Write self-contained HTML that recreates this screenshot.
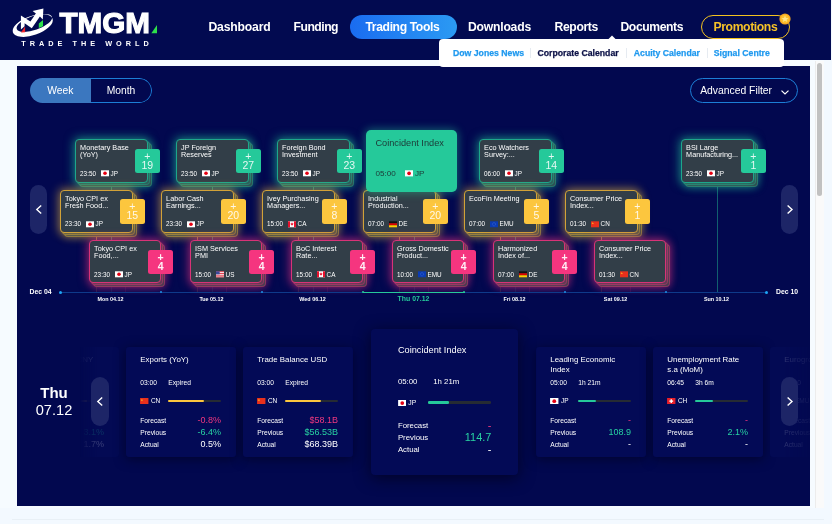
<!DOCTYPE html>
<html lang="en"><head><meta charset="utf-8"><title>TMGM - Corporate Calendar</title>
<style>
*{box-sizing:border-box;margin:0;padding:0}
html,body{width:832px;height:524px;overflow:hidden;background:#f3f9ff;font-family:"Liberation Sans",sans-serif}
.abs{position:absolute}
#hdr{position:absolute;left:0;top:0;width:831px;height:60.4px;background:#020a50}
.nav{position:absolute;top:20px;height:15px;line-height:15px;font-weight:bold;font-size:12.2px;color:#fff;white-space:nowrap}
#pill{position:absolute;left:349.5px;top:14.5px;width:107.5px;height:24.5px;border-radius:13px;background:linear-gradient(90deg,#1a6cf0,#2b9af3)}
#promo{position:absolute;left:701.2px;top:14.5px;width:89.2px;height:24.5px;border-radius:13px;border:1.6px solid #f3c21f}
#sub{position:absolute;left:439px;top:39px;width:345.2px;height:27.6px;background:#fff;border-radius:4px;z-index:5}
#sub span{position:absolute;top:8.5px;line-height:11px;font-size:8.7px;font-weight:bold;color:#1f99ef;-webkit-text-stroke:.25px currentColor;white-space:nowrap}
#sub i{position:absolute;top:9px;width:1px;height:10px;background:#e6ebf1}
#frame{position:absolute;left:0;top:60.4px;width:824px;height:447.6px;background:#f6fbff}
#panel{position:absolute;left:17px;top:66px;width:793px;height:440px;background:#02084f;overflow:hidden}
#sbt{position:absolute;left:815px;top:61px;width:9px;height:447px;background:#fafafa;border-left:1px solid #ececec}
#sbh{position:absolute;left:817.3px;top:63px;width:4.8px;height:133px;border-radius:3px;background:#c1c1c1}
#bl{position:absolute;left:12px;top:519px;width:812px;height:1px;background:#e9f0f6}
/* panel content uses page coords via inner wrapper */
#pc{position:absolute;left:-17px;top:-66px;width:832px;height:524px}
#tog{position:absolute;left:29.6px;top:78px;width:122.4px;height:24.5px;border-radius:12.5px;overflow:hidden;font-size:10.3px;color:#fff}
#tog .w{position:absolute;left:0;top:0;width:61.3px;height:24.5px;background:#3b77bf;line-height:25.3px;text-align:center}
#tog .m{position:absolute;left:61.3px;top:0;width:61.1px;height:24.5px;line-height:23.3px;text-align:center;border:1px solid #1c7ed6;border-left:none;border-radius:0 12.5px 12.5px 0;padding-right:0}
#af{position:absolute;left:690.3px;top:78px;width:107.7px;height:24.5px;border:1px solid #1c7ed6;border-radius:13px;font-size:10.35px;color:#fff;line-height:24.3px;padding-left:8.9px}
.arr{position:absolute;width:17.5px;height:49px;border-radius:9px;background:#1d2567}
.arr svg{position:absolute;left:0;top:0}
/* timeline cards */
.tc{position:absolute;width:73px;height:43px}.tc.g{height:44px}.tc.p{width:72.4px}
.tc .in,.tc i{position:absolute;left:0;top:0;width:100%;height:100%;border-radius:4px;background:#323e48;border:1px solid}
.tc i.s1{left:2px;top:2px}
.tc i.s2{left:4px;top:3.6px}
.tc.g .in{border-color:#1da78b}.tc.g i{border-color:rgba(31,174,144,.42)}
.tc.y .in{border-color:#d2a238}.tc.y i{border-color:rgba(220,170,56,.42)}
.tc.p .in{border-color:#d83377}.tc.p i{border-color:rgba(224,53,122,.42)}
.tc.g .in{box-shadow:0 0 10px 2px rgba(37,201,154,.5)}
.tc.y .in{box-shadow:0 0 10px 2px rgba(252,198,62,.45)}
.tc.p .in{box-shadow:0 0 10px 2px rgba(245,53,127,.5)}
.tc.g i.s2{box-shadow:0 0 9px 1px rgba(37,201,154,.4)}
.tc.y i.s2{box-shadow:0 0 9px 1px rgba(252,198,62,.35)}
.tc.p i.s2{box-shadow:0 0 9px 1px rgba(245,53,127,.4)}
.tt{position:absolute;left:4.1px;top:4.2px;font-size:7.25px;line-height:7.2px;color:#fff;white-space:nowrap}
.tm{position:absolute;left:4.1px;top:29.3px;height:8px;font-size:6.35px;line-height:8px;color:#fff;white-space:nowrap}
.tc.g .tm,.tc.p .tm{top:29.9px}.tc.g .tm .fl,.tc.p .tm .fl{top:0.4px}
.tm .fl{position:absolute;left:21.2px;top:0.8px;width:8px;height:6.6px}
.tm .cc{position:absolute;left:30.5px;top:0}
.bd{position:absolute;left:60px;top:10px;width:24.6px;height:24.4px;border-radius:2.5px;color:rgba(255,255,255,.88);font-size:10.5px;text-align:center}
.bd span{display:block;position:absolute;left:0;width:100%;line-height:10px}
.bd span:first-child{top:1.6px}
.bd span:last-child{top:10.6px}
.tc.g .bd{background:#25c99a}
.tc.y .bd{background:#fcc63e;top:9px;height:25px}
.tc.p .bd{left:59.4px;background:#f5357f;font-weight:bold;color:rgba(255,255,255,.93)}
.act{position:absolute;width:90.8px;height:61.8px;border-radius:5px;background:#25c99a;color:#1d3836;box-shadow:0 0 9px 1px rgba(37,201,154,.45);z-index:2}
.att{position:absolute;left:9.6px;top:7.7px;font-size:9.2px;line-height:11px;white-space:nowrap}
.atm{position:absolute;left:9.6px;top:38.8px;font-size:8.1px;line-height:10px;height:10px;white-space:nowrap}
.atm .fl{position:absolute;left:29.6px;top:1.4px;width:8.2px;height:6.7px}
.atm .cc{position:absolute;left:39.5px;top:0}
.vl{position:absolute;width:1px;opacity:.55}.vl.lo{opacity:.13}
.axl{position:absolute;top:291.5px;height:1px;background:#0e3a8a}
.axa{background:#25c99a}
.tk{position:absolute;top:290.5px;width:2px;height:2px;border-radius:1px}
.dot{position:absolute;top:290.5px;width:3px;height:3px;border-radius:50%;background:#1da4f5}
.dl{position:absolute;top:295px;width:101px;text-align:center;font-size:5.4px;line-height:8px;font-weight:bold;color:#fff;white-space:nowrap}
.dl.da{font-size:6.9px;top:295.1px;color:#25c99a}
.de{position:absolute;top:287px;font-size:6.85px;line-height:9px;font-weight:bold;color:#fff;white-space:nowrap}
/* bottom */
#thu{position:absolute;left:24px;top:384px;width:60px;text-align:center;color:#fff}
#thu b{display:block;font-size:15px;line-height:17px}
#thu span{display:block;font-size:14.6px;line-height:18px}
.bc{position:absolute;top:347px;width:110px;height:110px;background:#030a56;border-radius:3px;box-shadow:0 2px 12px rgba(0,0,24,.6);color:#fff}
.bc.fade{background:#030a54;box-shadow:none;color:rgba(255,255,255,.16)}.bc.fade .fl,.bc.fade .bar,.bc.fade em{opacity:.2}
.bt{position:absolute;left:14.3px;top:8.1px;font-size:7.9px;line-height:9.5px;white-space:nowrap}
.btm{position:absolute;left:14.3px;top:32px;font-size:6.67px;line-height:8px;white-space:nowrap}
.btm .st{position:absolute;left:28px;top:0}
.bfl{position:absolute;left:14.3px;top:49.5px;height:8px;font-size:6.5px;line-height:8px}
.bfl .fl{position:absolute;left:0;top:1px;width:8.5px;height:6.25px}
.bfl span{position:absolute;left:10.6px;top:0}
.bar{position:absolute;left:42.1px;top:52.6px;width:52.9px;height:2px;border-radius:1.2px;background:#262b33}
.bar b{display:block;height:100%;border-radius:1.2px}
.r{position:absolute;left:14.3px;width:80.7px;height:11px;font-size:6.67px;line-height:11px}
.r em{position:absolute;right:0;top:0;font-style:normal;font-size:9px;line-height:11px}
.r1{top:67.7px}.r2{top:80.1px}.r3{top:91.9px}
.pk{color:#f0387f}.tl{color:#28d2a2}.wh{color:#fff}
#lclip{position:absolute;left:80px;top:330px;width:40px;height:150px;overflow:hidden;-webkit-mask-image:linear-gradient(90deg,transparent 0,#000 45%);mask-image:linear-gradient(90deg,transparent 0,#000 45%)}#lclip .bc{top:17px}
#rclip{position:absolute;left:770px;top:330px;width:41px;height:150px;overflow:hidden;-webkit-mask-image:linear-gradient(90deg,#000 0,#000 35%,rgba(0,0,0,.25) 100%);mask-image:linear-gradient(90deg,#000 0,#000 35%,rgba(0,0,0,.25) 100%)}#rclip .bc{top:17px}
#ac{position:absolute;left:370.5px;top:328.5px;width:147.5px;height:146px;background:#030a56;border-radius:4px;box-shadow:0 3px 16px rgba(0,0,24,.75);color:#fff}
#ac .bt{left:27.4px;top:15px;font-size:9.2px;line-height:12px}
#ac .btm{left:27.4px;top:48.2px;font-size:7.8px;line-height:9px}
#ac .btm .st{left:35.4px}
#ac .bfl{left:27.4px;top:70px;font-size:6.8px}
#ac .bfl .fl{width:8.5px;height:6.2px}
#ac .bfl span{left:10.4px}
#ac .bar{left:57.9px;top:72.8px;width:62.9px;height:2.4px}
#ac .r{left:27.4px;width:93.4px;font-size:7.8px}
#ac .r em{font-size:10.9px}
#ac .r1{top:91px}#ac .r2{top:103.4px}#ac .r3{top:115.5px}
</style></head><body>
<div id="hdr">
 <svg class="abs" style="left:0;top:0" width="170" height="60" viewBox="0 0 170 60">
  <g transform="rotate(-19 32.7 25.5)"><path fill="#fff" fill-rule="evenodd" d="M11.7 25.5 a21 9.6 0 1 0 42 0 a21 9.6 0 1 0 -42 0 Z M16.5 23.6 a18.6 7 0 1 0 37.2 0 a18.6 7 0 1 0 -37.2 0 Z"/></g>
  <path d="M20.9 29.4 L20.9 15.6 L30.4 21.6 L35.9 13.6 L32.6 11 L43.4 8.4 L42.8 19.6 L39.9 16.6 L31.8 28.2 L24.6 23.2 L24.6 26.2 Z" fill="#fff"/>
  <path d="M21 32.5 L25.1 26.6 L25.1 32.3 Z" fill="#f0242c"/>
  <path d="M38.8 28 L38.8 23.6 L43 19.9 L43 26.2 Z" fill="#2ee04a"/>
  <text x="59.4" y="33.3" font-family="Liberation Sans, sans-serif" font-weight="bold" font-size="29.3" fill="#fff" stroke="#fff" stroke-width="1.1" stroke-linejoin="miter" textLength="90.6" lengthAdjust="spacingAndGlyphs">TMGM</text>
  <path d="M151.3 33.3 L157 33.3 L157 25 Z" fill="#2ee04a"/>
  <text x="21.3" y="45.6" font-family="Liberation Sans, sans-serif" font-weight="bold" font-size="7.3" fill="#fff" textLength="127.5" lengthAdjust="spacing">TRADE THE WORLD</text>
 </svg>
 <div id="pill"></div>
 <div id="promo"></div>
 <span class="nav" style="left:208.5px;letter-spacing:-0.19px">Dashboard</span>
 <span class="nav" style="left:293.5px;letter-spacing:-0.5px">Funding</span>
 <span class="nav" style="left:365.5px;letter-spacing:-0.4px">Trading Tools</span>
 <span class="nav" style="left:468px;letter-spacing:-0.23px">Downloads</span>
 <span class="nav" style="left:554.5px;letter-spacing:-0.37px">Reports</span>
 <span class="nav" style="left:620.5px;letter-spacing:-0.43px">Documents</span>
 <span class="nav" style="left:713.5px;color:#f5c228;letter-spacing:-0.39px">Promotions</span>
 <svg class="abs" style="left:778px;top:12px" width="14" height="14" viewBox="0 0 14 14"><circle cx="7" cy="7" r="5.6" fill="#f6a723"/><circle cx="7" cy="7" r="4.3" fill="#fbc02d"/><path d="M7 3.6 L8 5.9 L10.4 6.1 L8.6 7.7 L9.2 10.1 L7 8.8 L4.8 10.1 L5.4 7.7 L3.6 6.1 L6 5.9 Z" fill="#fde38a"/></svg>
 <svg class="abs" style="left:607px;top:35px" width="10" height="5" viewBox="0 0 10 5"><path d="M0.5 5 L5 0.5 L9.5 5 Z" fill="#fff"/></svg>
</div>
<div id="frame"></div>
<div id="sub">
 <span style="left:14px">Dow Jones News</span><i style="left:91px"></i>
 <span style="left:98.5px;color:#0b1046">Corporate Calendar</span><i style="left:187px"></i>
 <span style="left:194.8px">Acuity Calendar</span><i style="left:267.6px"></i>
 <span style="left:274.8px">Signal Centre</span>
</div>
<div id="sbt"></div><div id="sbh"></div><div id="bl"></div>
<div id="panel"><div id="pc">
 <div id="tog"><div class="w">Week</div><div class="m">Month</div></div>
 <div id="af">Advanced Filter<svg class="abs" style="left:89px;top:10px" width="10" height="6" viewBox="0 0 10 6"><path d="M1.5 1.6 L5 5 L8.5 1.6" fill="none" stroke="#fff" stroke-width="1.2"/></svg></div>
 <div class="arr" style="left:29.5px;top:185px"><svg width="17.5" height="49" viewBox="0 0 17.5 49"><path d="M11.2 20.5 L6.8 24.5 L11.2 28.5" fill="none" stroke="#fff" stroke-width="1.4"/></svg></div>
 <div class="arr" style="left:780.7px;top:185px"><svg width="17.5" height="49" viewBox="0 0 17.5 49"><path d="M6.6 20.5 L11 24.5 L6.6 28.5" fill="none" stroke="#fff" stroke-width="1.4"/></svg></div>
<div class="vl" style="left:111.0px;top:180.0px;height:104.0px;background:#1fa88a"></div><div class="vl lo" style="left:111.0px;top:284px;height:8px;background:#1fa88a"></div>
<div class="vl" style="left:212.0px;top:180.0px;height:104.0px;background:#1fa88a"></div><div class="vl lo" style="left:212.0px;top:284px;height:8px;background:#1fa88a"></div>
<div class="vl" style="left:313.0px;top:180.0px;height:104.0px;background:#1fa88a"></div><div class="vl lo" style="left:313.0px;top:284px;height:8px;background:#1fa88a"></div>
<div class="vl" style="left:414.0px;top:180.0px;height:104.0px;background:#1fa88a"></div><div class="vl lo" style="left:414.0px;top:284px;height:8px;background:#1fa88a"></div>
<div class="vl" style="left:515.0px;top:180.0px;height:104.0px;background:#1fa88a"></div><div class="vl lo" style="left:515.0px;top:284px;height:8px;background:#1fa88a"></div>
<div class="vl" style="left:717.0px;top:180.0px;height:112.0px;background:#1fa88a"></div>
<div class="vl" style="left:96.0px;top:230.0px;height:54.0px;background:#d9a636"></div><div class="vl lo" style="left:96.0px;top:284px;height:8px;background:#d9a636"></div>
<div class="vl" style="left:197.0px;top:230.0px;height:54.0px;background:#d9a636"></div><div class="vl lo" style="left:197.0px;top:284px;height:8px;background:#d9a636"></div>
<div class="vl" style="left:298.0px;top:230.0px;height:54.0px;background:#d9a636"></div><div class="vl lo" style="left:298.0px;top:284px;height:8px;background:#d9a636"></div>
<div class="vl" style="left:399.0px;top:230.0px;height:54.0px;background:#d9a636"></div><div class="vl lo" style="left:399.0px;top:284px;height:8px;background:#d9a636"></div>
<div class="vl" style="left:500.0px;top:230.0px;height:54.0px;background:#d9a636"></div><div class="vl lo" style="left:500.0px;top:284px;height:8px;background:#d9a636"></div>
<div class="vl" style="left:601.0px;top:230.0px;height:54.0px;background:#d9a636"></div><div class="vl lo" style="left:601.0px;top:284px;height:8px;background:#d9a636"></div>
<div class="vl" style="left:125.0px;top:280.0px;height:4.0px;background:#c92f7a"></div><div class="vl lo" style="left:125.0px;top:284px;height:8px;background:#c92f7a"></div>
<div class="vl" style="left:226.0px;top:280.0px;height:4.0px;background:#c92f7a"></div><div class="vl lo" style="left:226.0px;top:284px;height:8px;background:#c92f7a"></div>
<div class="vl" style="left:327.0px;top:280.0px;height:4.0px;background:#c92f7a"></div><div class="vl lo" style="left:327.0px;top:284px;height:8px;background:#c92f7a"></div>
<div class="vl" style="left:428.0px;top:280.0px;height:4.0px;background:#c92f7a"></div><div class="vl lo" style="left:428.0px;top:284px;height:8px;background:#c92f7a"></div>
<div class="vl" style="left:529.0px;top:280.0px;height:4.0px;background:#c92f7a"></div><div class="vl lo" style="left:529.0px;top:284px;height:8px;background:#c92f7a"></div>
<div class="vl" style="left:630.0px;top:280.0px;height:4.0px;background:#c92f7a"></div><div class="vl lo" style="left:630.0px;top:284px;height:8px;background:#c92f7a"></div>
<div class="tc g" style="left:75.0px;top:139.0px"><i class="s2"></i><i class="s1"></i><div class="in"><div class="tt">Monetary Base<br>(YoY)</div><div class="tm"><span class="t">23:50</span><svg class="fl" viewBox="0 0 12 9"><rect width="12" height="9" fill="#fff"/><circle cx="6" cy="4.5" r="2.7" fill="#e60012"/></svg><span class="cc">JP</span></div></div><div class="bd"><span>+</span><span>19</span></div></div>
<div class="tc g" style="left:176.0px;top:139.0px"><i class="s2"></i><i class="s1"></i><div class="in"><div class="tt">JP Foreign<br>Reserves</div><div class="tm"><span class="t">23:50</span><svg class="fl" viewBox="0 0 12 9"><rect width="12" height="9" fill="#fff"/><circle cx="6" cy="4.5" r="2.7" fill="#e60012"/></svg><span class="cc">JP</span></div></div><div class="bd"><span>+</span><span>27</span></div></div>
<div class="tc g" style="left:277.0px;top:139.0px"><i class="s2"></i><i class="s1"></i><div class="in"><div class="tt">Foreign Bond<br>Investment</div><div class="tm"><span class="t">23:50</span><svg class="fl" viewBox="0 0 12 9"><rect width="12" height="9" fill="#fff"/><circle cx="6" cy="4.5" r="2.7" fill="#e60012"/></svg><span class="cc">JP</span></div></div><div class="bd"><span>+</span><span>23</span></div></div>
<div class="tc g" style="left:479.0px;top:139.0px"><i class="s2"></i><i class="s1"></i><div class="in"><div class="tt">Eco Watchers<br>Survey:...</div><div class="tm"><span class="t">06:00</span><svg class="fl" viewBox="0 0 12 9"><rect width="12" height="9" fill="#fff"/><circle cx="6" cy="4.5" r="2.7" fill="#e60012"/></svg><span class="cc">JP</span></div></div><div class="bd"><span>+</span><span>14</span></div></div>
<div class="tc g" style="left:681.0px;top:139.0px"><i class="s2"></i><i class="s1"></i><div class="in"><div class="tt">BSI Large<br>Manufacturing...</div><div class="tm"><span class="t">23:50</span><svg class="fl" viewBox="0 0 12 9"><rect width="12" height="9" fill="#fff"/><circle cx="6" cy="4.5" r="2.7" fill="#e60012"/></svg><span class="cc">JP</span></div></div><div class="bd"><span>+</span><span>1</span></div></div>
<div class="act" style="left:365.8px;top:130px"><div class="att">Coincident Index</div><div class="atm"><span class="t">05:00</span><svg class="fl" viewBox="0 0 12 9"><rect width="12" height="9" fill="#fff"/><circle cx="6" cy="4.5" r="2.7" fill="#e60012"/></svg><span class="cc">JP</span></div></div>
<div class="tc y" style="left:60.0px;top:190.0px"><i class="s2"></i><i class="s1"></i><div class="in"><div class="tt">Tokyo CPI ex<br>Fresh Food...</div><div class="tm"><span class="t">23:30</span><svg class="fl" viewBox="0 0 12 9"><rect width="12" height="9" fill="#fff"/><circle cx="6" cy="4.5" r="2.7" fill="#e60012"/></svg><span class="cc">JP</span></div></div><div class="bd"><span>+</span><span>15</span></div></div>
<div class="tc y" style="left:161.0px;top:190.0px"><i class="s2"></i><i class="s1"></i><div class="in"><div class="tt">Labor Cash<br>Earnings...</div><div class="tm"><span class="t">23:30</span><svg class="fl" viewBox="0 0 12 9"><rect width="12" height="9" fill="#fff"/><circle cx="6" cy="4.5" r="2.7" fill="#e60012"/></svg><span class="cc">JP</span></div></div><div class="bd"><span>+</span><span>20</span></div></div>
<div class="tc y" style="left:262.0px;top:190.0px"><i class="s2"></i><i class="s1"></i><div class="in"><div class="tt">Ivey Purchasing<br>Managers...</div><div class="tm"><span class="t">15:00</span><svg class="fl" viewBox="0 0 12 9"><rect width="12" height="9" fill="#fff"/><rect width="3" height="9" fill="#e8112d"/><rect x="9" width="3" height="9" fill="#e8112d"/><path d="M6 1.6 L7 3.4 L8.2 3.1 L7.6 5.2 L6.3 5.6 L6.3 7.3 L5.7 7.3 L5.7 5.6 L4.4 5.2 L3.8 3.1 L5 3.4 Z" fill="#e8112d"/></svg><span class="cc">CA</span></div></div><div class="bd"><span>+</span><span>8</span></div></div>
<div class="tc y" style="left:363.0px;top:190.0px"><i class="s2"></i><i class="s1"></i><div class="in"><div class="tt">Industrial<br>Production...</div><div class="tm"><span class="t">07:00</span><svg class="fl" viewBox="0 0 12 9"><rect width="12" height="3" fill="#111"/><rect y="3" width="12" height="3" fill="#dd0000"/><rect y="6" width="12" height="3" fill="#ffce00"/></svg><span class="cc">DE</span></div></div><div class="bd"><span>+</span><span>20</span></div></div>
<div class="tc y" style="left:464.0px;top:190.0px"><i class="s2"></i><i class="s1"></i><div class="in"><div class="tt">EcoFin Meeting</div><div class="tm"><span class="t">07:00</span><svg class="fl" viewBox="0 0 12 9"><rect width="12" height="9" fill="#0b3bb3"/><circle cx="6" cy="4.5" r="2.4" fill="none" stroke="#4f7be0" stroke-width="0.9" stroke-dasharray="0.9 0.6"/></svg><span class="cc">EMU</span></div></div><div class="bd"><span>+</span><span>5</span></div></div>
<div class="tc y" style="left:565.0px;top:190.0px"><i class="s2"></i><i class="s1"></i><div class="in"><div class="tt">Consumer Price<br>Index...</div><div class="tm"><span class="t">01:30</span><svg class="fl" viewBox="0 0 12 9"><rect width="12" height="9" fill="#e8301c"/><path d="M2.6 1.2 L3.1 2.5 L4.5 2.5 L3.4 3.3 L3.8 4.6 L2.6 3.8 L1.4 4.6 L1.8 3.3 L0.7 2.5 L2.1 2.5 Z" fill="#f6b21d"/></svg><span class="cc">CN</span></div></div><div class="bd"><span>+</span><span>1</span></div></div>
<div class="tc p" style="left:89.0px;top:240.0px"><i class="s2"></i><i class="s1"></i><div class="in"><div class="tt">Tokyo CPI ex<br>Food,...</div><div class="tm"><span class="t">23:30</span><svg class="fl" viewBox="0 0 12 9"><rect width="12" height="9" fill="#fff"/><circle cx="6" cy="4.5" r="2.7" fill="#e60012"/></svg><span class="cc">JP</span></div></div><div class="bd"><span>+</span><span>4</span></div></div>
<div class="tc p" style="left:190.0px;top:240.0px"><i class="s2"></i><i class="s1"></i><div class="in"><div class="tt">ISM Services<br>PMI</div><div class="tm"><span class="t">15:00</span><svg class="fl" viewBox="0 0 12 9"><rect width="12" height="9" fill="#fff"/><g fill="#d9283a"><rect width="12" height="1.3"/><rect y="2.6" width="12" height="1.3"/><rect y="5.2" width="12" height="1.3"/><rect y="7.7" width="12" height="1.3"/></g><rect width="5.5" height="4.6" fill="#3b4a9c"/></svg><span class="cc">US</span></div></div><div class="bd"><span>+</span><span>4</span></div></div>
<div class="tc p" style="left:291.0px;top:240.0px"><i class="s2"></i><i class="s1"></i><div class="in"><div class="tt">BoC Interest<br>Rate...</div><div class="tm"><span class="t">15:00</span><svg class="fl" viewBox="0 0 12 9"><rect width="12" height="9" fill="#fff"/><rect width="3" height="9" fill="#e8112d"/><rect x="9" width="3" height="9" fill="#e8112d"/><path d="M6 1.6 L7 3.4 L8.2 3.1 L7.6 5.2 L6.3 5.6 L6.3 7.3 L5.7 7.3 L5.7 5.6 L4.4 5.2 L3.8 3.1 L5 3.4 Z" fill="#e8112d"/></svg><span class="cc">CA</span></div></div><div class="bd"><span>+</span><span>4</span></div></div>
<div class="tc p" style="left:392.0px;top:240.0px"><i class="s2"></i><i class="s1"></i><div class="in"><div class="tt">Gross Domestic<br>Product...</div><div class="tm"><span class="t">10:00</span><svg class="fl" viewBox="0 0 12 9"><rect width="12" height="9" fill="#0b3bb3"/><circle cx="6" cy="4.5" r="2.4" fill="none" stroke="#4f7be0" stroke-width="0.9" stroke-dasharray="0.9 0.6"/></svg><span class="cc">EMU</span></div></div><div class="bd"><span>+</span><span>4</span></div></div>
<div class="tc p" style="left:493.0px;top:240.0px"><i class="s2"></i><i class="s1"></i><div class="in"><div class="tt">Harmonized<br>Index of...</div><div class="tm"><span class="t">07:00</span><svg class="fl" viewBox="0 0 12 9"><rect width="12" height="3" fill="#111"/><rect y="3" width="12" height="3" fill="#dd0000"/><rect y="6" width="12" height="3" fill="#ffce00"/></svg><span class="cc">DE</span></div></div><div class="bd"><span>+</span><span>4</span></div></div>
<div class="tc p" style="left:594.0px;top:240.0px"><i class="s2"></i><i class="s1"></i><div class="in"><div class="tt">Consumer Price<br>Index...</div><div class="tm"><span class="t">01:30</span><svg class="fl" viewBox="0 0 12 9"><rect width="12" height="9" fill="#e8301c"/><path d="M2.6 1.2 L3.1 2.5 L4.5 2.5 L3.4 3.3 L3.8 4.6 L2.6 3.8 L1.4 4.6 L1.8 3.3 L0.7 2.5 L2.1 2.5 Z" fill="#f6b21d"/></svg><span class="cc">CN</span></div></div></div>
<div class="axl" style="left:60px;width:707px"></div>
<div class="axl axa" style="left:362.5px;width:102px"></div>
<div class="tk" style="left:160.0px;background:#1f8fe5"></div>
<div class="tk" style="left:261.0px;background:#1f8fe5"></div>
<div class="tk" style="left:362.0px;background:#25c99a"></div>
<div class="tk" style="left:463.0px;background:#25c99a"></div>
<div class="tk" style="left:564.0px;background:#1f8fe5"></div>
<div class="tk" style="left:665.0px;background:#1f8fe5"></div>
<div class="dot" style="left:59px"></div><div class="dot" style="left:765px"></div>
<div class="dl" style="left:60.0px">Mon 04.12</div>
<div class="dl" style="left:161.0px">Tue 05.12</div>
<div class="dl" style="left:262.0px">Wed 06.12</div>
<div class="dl da" style="left:363.0px">Thu 07.12</div>
<div class="dl" style="left:464.0px">Fri 08.12</div>
<div class="dl" style="left:565.0px">Sat 09.12</div>
<div class="dl" style="left:666.0px">Sun 10.12</div>
<div class="de" style="left:29.5px">Dec 04</div><div class="de" style="left:776px">Dec 10</div>
 <div id="thu"><b>Thu</b><span>07.12</span></div>
<div id="lclip"><div class="bc fade" style="left:-71.0px"><div class="bt">Trade Balance CNY</div><div class="btm"><span>03:00</span><span class="st">Expired</span></div><div class="bfl"><svg class="fl" viewBox="0 0 12 9"><rect width="12" height="9" fill="#e8301c"/><path d="M2.6 1.2 L3.1 2.5 L4.5 2.5 L3.4 3.3 L3.8 4.6 L2.6 3.8 L1.4 4.6 L1.8 3.3 L0.7 2.5 L2.1 2.5 Z" fill="#f6b21d"/></svg><span>CN</span></div><div class="bar"><b style="width:68%;background:#fcc63e"></b></div><div class="r r1"><span>Forecast</span><em class="pk">-</em></div><div class="r r2"><span>Previous</span><em class="tl">3.1%</em></div><div class="r r3"><span>Actual</span><em class="wh">1.7%</em></div></div></div>
<div class="bc " style="left:126.0px"><div class="bt">Exports (YoY)</div><div class="btm"><span>03:00</span><span class="st">Expired</span></div><div class="bfl"><svg class="fl" viewBox="0 0 12 9"><rect width="12" height="9" fill="#e8301c"/><path d="M2.6 1.2 L3.1 2.5 L4.5 2.5 L3.4 3.3 L3.8 4.6 L2.6 3.8 L1.4 4.6 L1.8 3.3 L0.7 2.5 L2.1 2.5 Z" fill="#f6b21d"/></svg><span>CN</span></div><div class="bar"><b style="width:68%;background:#fcc63e"></b></div><div class="r r1"><span>Forecast</span><em class="pk">-0.8%</em></div><div class="r r2"><span>Previous</span><em class="tl">-6.4%</em></div><div class="r r3"><span>Actual</span><em class="wh">0.5%</em></div></div>
<div class="bc " style="left:243.0px"><div class="bt">Trade Balance USD</div><div class="btm"><span>03:00</span><span class="st">Expired</span></div><div class="bfl"><svg class="fl" viewBox="0 0 12 9"><rect width="12" height="9" fill="#e8301c"/><path d="M2.6 1.2 L3.1 2.5 L4.5 2.5 L3.4 3.3 L3.8 4.6 L2.6 3.8 L1.4 4.6 L1.8 3.3 L0.7 2.5 L2.1 2.5 Z" fill="#f6b21d"/></svg><span>CN</span></div><div class="bar"><b style="width:68%;background:#fcc63e"></b></div><div class="r r1"><span>Forecast</span><em class="pk">$58.1B</em></div><div class="r r2"><span>Previous</span><em class="tl">$56.53B</em></div><div class="r r3"><span>Actual</span><em class="wh">$68.39B</em></div></div>
<div class="bc " style="left:536.0px"><div class="bt">Leading Economic<br>Index</div><div class="btm"><span>05:00</span><span class="st">1h 21m</span></div><div class="bfl"><svg class="fl" viewBox="0 0 12 9"><rect width="12" height="9" fill="#fff"/><circle cx="6" cy="4.5" r="2.7" fill="#e60012"/></svg><span>JP</span></div><div class="bar"><b style="width:33%;background:#25c99a"></b></div><div class="r r1"><span>Forecast</span><em class="pk">-</em></div><div class="r r2"><span>Previous</span><em class="tl">108.9</em></div><div class="r r3"><span>Actual</span><em class="wh">-</em></div></div>
<div class="bc " style="left:653.0px"><div class="bt">Unemployment Rate<br>s.a (MoM)</div><div class="btm"><span>06:45</span><span class="st">3h 6m</span></div><div class="bfl"><svg class="fl" viewBox="0 0 12 9"><rect width="12" height="9" fill="#e8202a"/><rect x="5" y="1.8" width="2" height="5.4" fill="#fff"/><rect x="3.3" y="3.5" width="5.4" height="2" fill="#fff"/></svg><span>CH</span></div><div class="bar"><b style="width:33%;background:#25c99a"></b></div><div class="r r1"><span>Forecast</span><em class="pk">-</em></div><div class="r r2"><span>Previous</span><em class="tl">2.1%</em></div><div class="r r3"><span>Actual</span><em class="wh">-</em></div></div>
<div id="rclip"><div class="bc fade" style="left:0.0px"><div class="bt">Eurogroup Meeting</div><div class="btm"><span>07:00</span><span class="st">3h 21m</span></div><div class="bfl"><svg class="fl" viewBox="0 0 12 9"><rect width="12" height="9" fill="#0b3bb3"/><circle cx="6" cy="4.5" r="2.4" fill="none" stroke="#4f7be0" stroke-width="0.9" stroke-dasharray="0.9 0.6"/></svg><span>EMU</span></div><div class="bar"><b style="width:33%;background:#25c99a"></b></div><div class="r r1"><span>Forecast</span><em class="pk">-</em></div><div class="r r2"><span>Previous</span><em class="tl">-</em></div><div class="r r3"><span>Actual</span><em class="wh">-</em></div></div></div>
 <div id="ac">
  <div class="bt">Coincident Index</div>
  <div class="btm"><span>05:00</span><span class="st">1h 21m</span></div>
  <div class="bfl"><svg class="fl" viewBox="0 0 12 9"><rect width="12" height="9" fill="#fff"/><circle cx="6" cy="4.5" r="2.7" fill="#e60012"/></svg><span>JP</span></div>
  <div class="bar"><b style="width:33%;background:#25c99a"></b></div>
  <div class="r r1"><span>Forecast</span><em class="pk">-</em></div>
  <div class="r r2"><span>Previous</span><em class="tl">114.7</em></div>
  <div class="r r3"><span>Actual</span><em class="wh">-</em></div>
 </div>
 <div class="arr" style="left:91px;top:377.2px;z-index:4"><svg width="17.5" height="49" viewBox="0 0 17.5 49"><path d="M11.2 20.5 L6.8 24.5 L11.2 28.5" fill="none" stroke="#fff" stroke-width="1.4"/></svg></div>
 <div class="arr" style="left:780.7px;top:377.2px;z-index:4"><svg width="17.5" height="49" viewBox="0 0 17.5 49"><path d="M6.6 20.5 L11 24.5 L6.6 28.5" fill="none" stroke="#fff" stroke-width="1.4"/></svg></div>
</div></div>
</body></html>
